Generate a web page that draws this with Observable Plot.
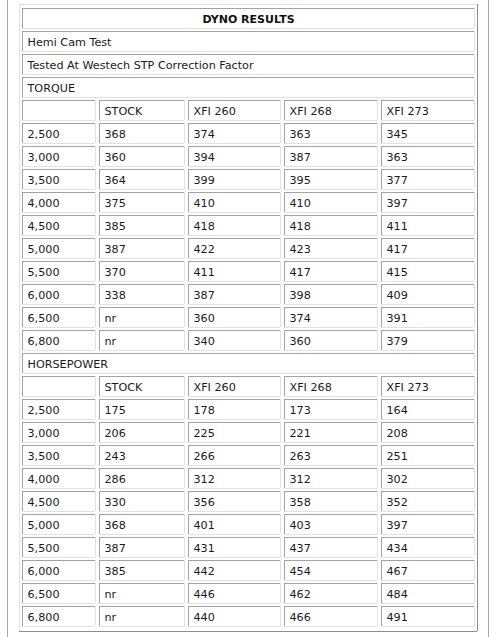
<!DOCTYPE html>
<html>
<head>
<meta charset="utf-8">
<script src="https://cdn.jsdelivr.net/npm/d3@7"></script>
<script src="https://cdn.jsdelivr.net/npm/@observablehq/plot@0.6"></script>
<style>
  html, body { margin: 0; padding: 0; background: #fff; }
  svg { display: block; }
</style>
</head>
<body>
<div id="chart"></div>
<script>
// ---- Data ----
const title = "DYNO RESULTS";
const subtitle1 = "Hemi Cam Test";
const subtitle2 = "Tested At Westech STP Correction Factor";
const sections = ["TORQUE", "HORSEPOWER"];
const columns = ["STOCK", "XFI 260", "XFI 268", "XFI 273"];
const rpm = ["2,500", "3,000", "3,500", "4,000", "4,500", "5,000", "5,500", "6,000", "6,500", "6,800"];

const torqueStock = [368, 360, 364, 375, 385, 387, 370, 338, null, null];
const torqueXfi260 = [374, 394, 399, 410, 418, 422, 411, 387, 360, 340];
const torqueXfi268 = [363, 387, 395, 410, 418, 423, 417, 398, 374, 360];
const torqueXfi273 = [345, 363, 377, 397, 411, 417, 415, 409, 391, 379];

const hpStock = [175, 206, 243, 286, 330, 368, 387, 385, null, null];
const hpXfi260 = [178, 225, 266, 312, 356, 401, 431, 442, 446, 440];
const hpXfi268 = [173, 221, 263, 312, 358, 403, 437, 454, 462, 466];
const hpXfi273 = [164, 208, 251, 302, 352, 397, 434, 467, 484, 491];

// ---- Layout (table geometry) ----
const W = 499, H = 637;
const tableLeft = 22, rowTop0 = 8, rowPitch = 23, cellH = 20;
const colWidths = [74, 86, 93, 94, 94], colGap = 3;
const colLeft = [], colRight = [];
{ let x = tableLeft; for (const w of colWidths) { colLeft.push(x); colRight.push(x + w - 1); x += w + colGap; } }
const fullLeft = colLeft[0], fullRight = colRight[colRight.length - 1];
const dark = "#a3a3a3", light = "#e2e2e2";

// Build cell table
const cells = [];
let rowIdx = 0;
cells.push({row: rowIdx++, c0: 0, c1: 4, text: title, bold: true, center: true});
cells.push({row: rowIdx++, c0: 0, c1: 4, text: subtitle1});
cells.push({row: rowIdx++, c0: 0, c1: 4, text: subtitle2});
const blocks = [
  [torqueStock, torqueXfi260, torqueXfi268, torqueXfi273],
  [hpStock, hpXfi260, hpXfi268, hpXfi273]
];
sections.forEach((s, si) => {
  cells.push({row: rowIdx++, c0: 0, c1: 4, text: s});
  cells.push({row: rowIdx, c0: 0, c1: 0, text: ""});
  columns.forEach((c, ci) => cells.push({row: rowIdx, c0: ci + 1, c1: ci + 1, text: c}));
  rowIdx++;
  rpm.forEach((r, ri) => {
    cells.push({row: rowIdx, c0: 0, c1: 0, text: r});
    blocks[si].forEach((series, ci) => {
      const v = series[ri];
      cells.push({row: rowIdx, c0: ci + 1, c1: ci + 1, text: v == null ? "nr" : String(v)});
    });
    rowIdx++;
  });
});
const nRows = rowIdx;

const cTop = d => rowTop0 + rowPitch * d.row;
const cBot = d => rowTop0 + rowPitch * d.row + cellH;
const cLeft = d => colLeft[d.c0];
const cRight = d => colRight[d.c1];

const lastBottom = rowTop0 + rowPitch * (nRows - 1) + cellH;
const outer = {x1: fullLeft - 3, x2: fullRight + 3, y1: rowTop0 - 4, y2: lastBottom + 5};

const font = "Verdana, 'DejaVu Sans', sans-serif";

const plot = Plot.plot({
  width: W, height: H,
  margin: 0,
  x: {type: "linear", domain: [0, W], range: [0, W], axis: null},
  y: {type: "linear", domain: [0, H], range: [0, H], axis: null},
  style: {background: "#fff", fontFamily: font},
  marks: [
    Plot.ruleX([7, 488], {y1: 0, y2: H, stroke: "#a8a8a8"}),
    Plot.ruleY([outer], {y: "y1", x1: "x1", x2: "x2", stroke: light}),
    Plot.ruleX([outer], {x: "x1", y1: "y1", y2: "y2", stroke: light}),
    Plot.ruleY([outer], {y: "y2", x1: "x1", x2: "x2", stroke: "#8e8e8e"}),
    Plot.ruleX([outer], {x: "x2", y1: "y1", y2: "y2", stroke: "#8e8e8e"}),
    Plot.ruleY(cells, {y: cBot, x1: cLeft, x2: cRight, stroke: light}),
    Plot.ruleX(cells, {x: cRight, y1: cTop, y2: cBot, stroke: light}),
    Plot.ruleY(cells, {y: cTop, x1: cLeft, x2: cRight, stroke: dark}),
    Plot.ruleX(cells, {x: cLeft, y1: cTop, y2: cBot, stroke: dark}),
    Plot.text(cells.filter(d => !d.center), {
      x: d => cLeft(d) + 5, y: d => cTop(d) + cellH / 2 + 0.5,
      text: "text", textAnchor: "start", fontSize: 11.2, fill: "#1a1a1a", fontFamily: font
    }),
    Plot.text(cells.filter(d => d.center), {
      x: d => (cLeft(d) + cRight(d)) / 2, y: d => cTop(d) + cellH / 2 + 0.5,
      text: "text", textAnchor: "middle", fontSize: 11, fontWeight: "bold", fill: "#111", fontFamily: font
    })
  ]
});
document.getElementById("chart").append(plot);
</script>
</body>
</html>
